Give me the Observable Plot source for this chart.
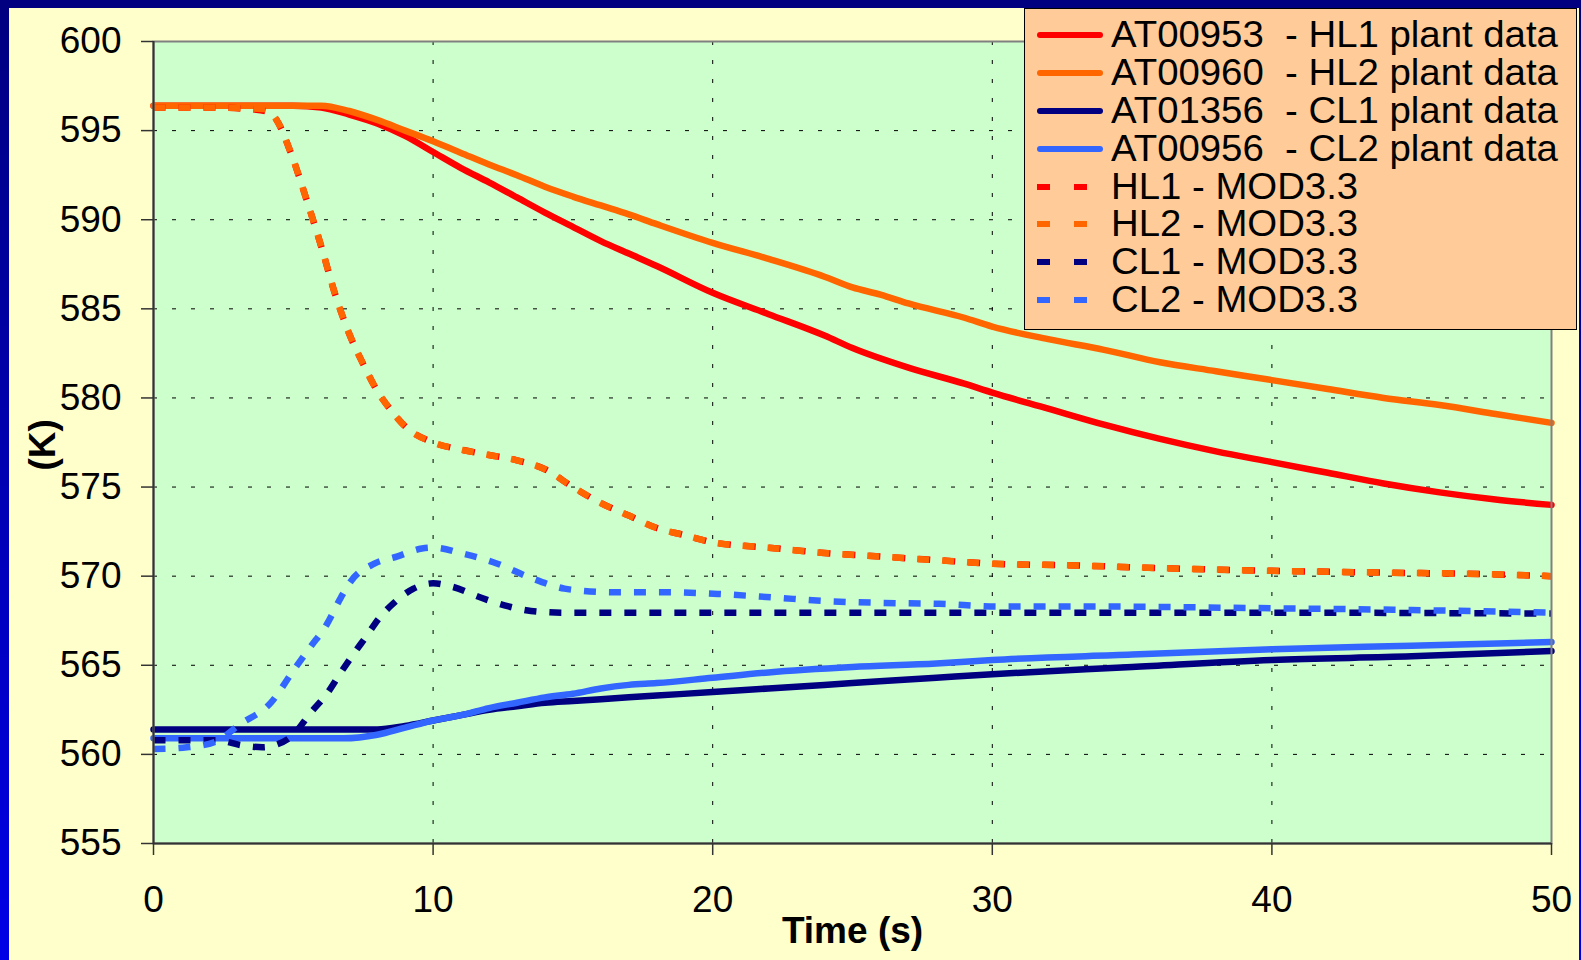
<!DOCTYPE html>
<html>
<head>
<meta charset="utf-8">
<script src="https://cdn.jsdelivr.net/npm/d3@7"></script>
<script src="https://cdn.jsdelivr.net/npm/@observablehq/plot@0.6"></script>
<style>
  html, body { margin: 0; padding: 0; }
  body {
    width: 1581px; height: 960px; position: relative; overflow: hidden;
    background: linear-gradient(180deg, #000080 0%, #0000e6 100%);
    font-family: "Liberation Sans", Arial, sans-serif;
  }
  #cream { position: absolute; left: 9px; top: 8px; width: 1570px; height: 952px; background: #ffffcc; }
  #chart { position: absolute; left: 0; top: 0; }
  #chart svg { overflow: visible; }
  #legend {
    position: absolute; left: 1024px; top: 8px; width: 551px; height: 313px;
    background: #ffcc99; border: 1.5px solid #000; padding-top: 7px; box-sizing: content-box;
  }
  .row { display: flex; align-items: center; height: 37.9px; }
  .row svg { margin-left: 12px; flex: none; }
  .row span { margin-left: 8px; font-size: 36px; white-space: pre; color: #000;
    display: inline-block; transform: scaleX(1.065); transform-origin: left center; line-height: 1; }
</style>
</head>
<body>
<div id="cream"></div>
<div id="chart"></div>
<div id="legend"></div>
<script>
// ---- data (time in s, temperature in K) ----
const hl1PlantT = [0,5,6,7,8,9,10,11,12,13,14,15,16,17,18,20,22,24,25,27,29,30,32,34,36,38,40,42,44,46,48,50];
const hl1PlantV = [596.4,596.4,596.3,595.9,595.4,594.7,593.8,592.9,592.1,591.25,590.4,589.6,588.8,588.1,587.4,585.9,584.7,583.5,582.8,581.7,580.8,580.3,579.4,578.5,577.7,577.0,576.4,575.8,575.2,574.7,574.3,574.0];

const hl2PlantT = [0,6,7,8,9,10,11,12,13,14,15,16,17,18,20,22,24,25,26,27,29,30,32,34,36,38,40,42,44,46,48,50];
const hl2PlantV = [596.4,596.4,596.1,595.6,595.0,594.4,593.75,593.1,592.5,591.85,591.3,590.8,590.3,589.75,588.7,587.8,586.8,586.2,585.8,585.3,584.5,584.0,583.3,582.7,582.0,581.5,581.0,580.5,580.0,579.6,579.1,578.6];

const cl1PlantT = [0,8,9,10,11,12,13,14,15,16,17,18,20,22,25,28,30,35,40,45,50];
const cl1PlantV = [561.4,561.4,561.6,561.9,562.2,562.5,562.7,562.9,563.0,563.1,563.2,563.3,563.5,563.7,564.0,564.3,564.5,564.9,565.3,565.5,565.8];

const cl2PlantT = [0,6.8,8,9,10,11,12,13,14,15,16,17,18,20,22,25,28,30,35,40,45,50];
const cl2PlantV = [560.9,560.9,561.1,561.5,561.9,562.2,562.6,562.9,563.2,563.4,563.7,563.9,564.0,564.3,564.6,564.9,565.1,565.3,565.6,565.9,566.1,566.3];

const hl1ModT = [0,2,3.5,4,4.4,4.9,5.5,6,6.5,7,7.5,8,8.5,9,10,11,12,13,14,15,16,17,18,19,20,22,24,26,28,30,33,36,40,44,48,50];
const hl1ModV = [596.3,596.3,596.2,596.1,595.6,593.8,591.0,588.5,585.8,583.6,581.9,580.4,579.3,578.4,577.5,577.1,576.8,576.5,576.0,575.0,574.1,573.4,572.7,572.3,571.9,571.6,571.3,571.1,570.9,570.7,570.6,570.45,570.3,570.2,570.1,570.0];

const hl2ModT = [0,2,4,4.4,4.9,5.5,6,6.5,7,7.5,8,8.5,9,10,11,12,13,14,15,16,17,18,19,20,22,24,26,28,30,33,36,40,44,48,50];
const hl2ModV = [596.3,596.3,596.2,595.6,593.8,591.0,588.5,585.8,583.6,581.9,580.4,579.3,578.4,577.5,577.1,576.8,576.5,576.0,575.0,574.1,573.4,572.7,572.3,571.9,571.6,571.3,571.1,570.9,570.7,570.6,570.45,570.3,570.2,570.1,570.0];

const cl1ModT = [0,2.2,3.2,3.9,4.3,5.0,5.6,6.2,6.7,7.05,7.6,8.1,8.6,9.3,10,10.7,11.7,12.7,13.5,14.7,16,20,30,40,50];
const cl1ModV = [560.8,560.8,560.5,560.4,560.5,561.1,562.3,563.4,564.6,565.4,566.6,567.7,568.5,569.3,569.6,569.4,568.8,568.3,568.05,567.95,567.95,567.95,567.95,567.95,567.9];

const cl2ModT = [0,1.2,2.2,3.1,4.2,5.0,5.6,6.2,6.7,7.05,7.9,8.7,9.6,10,11.1,12.3,13.5,14.7,15.2,16.5,18.2,20.2,22.2,24.1,26.1,28.1,30.2,33,40,45,50];
const cl2ModV = [560.3,560.4,560.7,561.7,562.9,564.7,566.0,567.3,568.8,569.7,570.7,571.1,571.55,571.6,571.25,570.7,569.9,569.3,569.2,569.1,569.1,569.0,568.8,568.6,568.5,568.45,568.3,568.3,568.2,568.1,567.95];

const seriesNames = ["AT00953  - HL1 plant data","AT00960  - HL2 plant data","AT01356  - CL1 plant data","AT00956  - CL2 plant data","HL1 - MOD3.3","HL2 - MOD3.3","CL1 - MOD3.3","CL2 - MOD3.3"];
const seriesColors = ["#ff0000","#ff6600","#000080","#3366ff","#ff0000","#ff6600","#000080","#3366ff"];
const seriesDashed = [false,false,false,false,true,true,true,true];
const seriesT = [hl1PlantT,hl2PlantT,cl1PlantT,cl2PlantT,hl1ModT,hl2ModT,cl1ModT,cl2ModT];
const seriesV = [hl1PlantV,hl2PlantV,cl1PlantV,cl2PlantV,hl1ModV,hl2ModV,cl1ModV,cl2ModV];

const xTicks = [0,10,20,30,40,50];
const yTicks = [555,560,565,570,575,580,585,590,595,600];
const xLabel = "Time (s)";
const yLabel = "(K)";

// ---- chart ----
const lineMarks = seriesNames.map((name, i) => {
  const rows = seriesT[i].map((t, j) => ({t, v: seriesV[i][j], name}));
  return Plot.line(rows, {
    x: "t", y: "v",
    stroke: seriesColors[i],
    strokeWidth: 6.5,
    strokeDasharray: seriesDashed[i] ? "12,13" : null,
    strokeLinecap: seriesDashed[i] ? "butt" : "round",
    strokeLinejoin: "round",
    curve: "monotone-x"
  });
});

const chart = Plot.plot({
  width: 1581,
  height: 960,
  marginLeft: 153,
  marginRight: 30,
  marginTop: 41,
  marginBottom: 117,
  style: {background: "transparent", fontFamily: "'Liberation Sans', Arial, sans-serif", fontSize: "37px", color: "black", overflow: "visible"},
  x: {domain: [0, 50]},
  y: {domain: [555, 600]},
  marks: [
    Plot.frame({fill: "#ccffcc", stroke: null}),
    Plot.gridX({ticks: xTicks, stroke: "black", strokeOpacity: 1, strokeWidth: 1, strokeDasharray: "4,15"}),
    Plot.gridY({ticks: yTicks, stroke: "black", strokeOpacity: 1, strokeWidth: 1, strokeDasharray: "4,15"}),
    ...lineMarks,
    Plot.frame({stroke: "#808080", strokeWidth: 2}),
    Plot.ruleX([0], {stroke: "#333", strokeWidth: 2}),
    Plot.ruleY([555], {stroke: "#333", strokeWidth: 2}),
    Plot.axisY({ticks: yTicks, tickSize: 12, tickPadding: 20, label: null, stroke: "#333", strokeWidth: 1.5, tickFormat: d => String(d)}),
    Plot.axisX({ticks: xTicks, tickSize: 12, tickPadding: 30, label: null, stroke: "#333", strokeWidth: 1.5, tickFormat: d => String(d)}),
    Plot.text([xLabel], {text: d => d, frameAnchor: "bottom", dy: 99, fontWeight: "bold", fontSize: 37}),
    Plot.text([yLabel], {text: d => d, frameAnchor: "left", dx: -110, dy: 28, rotate: -90, fontWeight: "bold", fontSize: 37})
  ]
});
document.getElementById("chart").appendChild(chart);

// ---- legend ----
const legend = document.getElementById("legend");
seriesNames.forEach((name, i) => {
  const row = document.createElement("div");
  row.className = "row";
  const ns = "http://www.w3.org/2000/svg";
  const s = document.createElementNS(ns, "svg");
  s.setAttribute("width", "66"); s.setAttribute("height", "10");
  const l = document.createElementNS(ns, "line");
  l.setAttribute("x1", seriesDashed[i] ? "0" : "3"); l.setAttribute("x2", seriesDashed[i] ? "66" : "63");
  l.setAttribute("y1", "5"); l.setAttribute("y2", "5");
  l.setAttribute("stroke", seriesColors[i]); l.setAttribute("stroke-width", "6");
  if (seriesDashed[i]) { l.setAttribute("stroke-dasharray", "13,24"); }
  else { l.setAttribute("stroke-linecap", "round"); }
  s.appendChild(l);
  const span = document.createElement("span");
  span.textContent = name;
  row.appendChild(s); row.appendChild(span);
  legend.appendChild(row);
});
</script>
</body>
</html>
